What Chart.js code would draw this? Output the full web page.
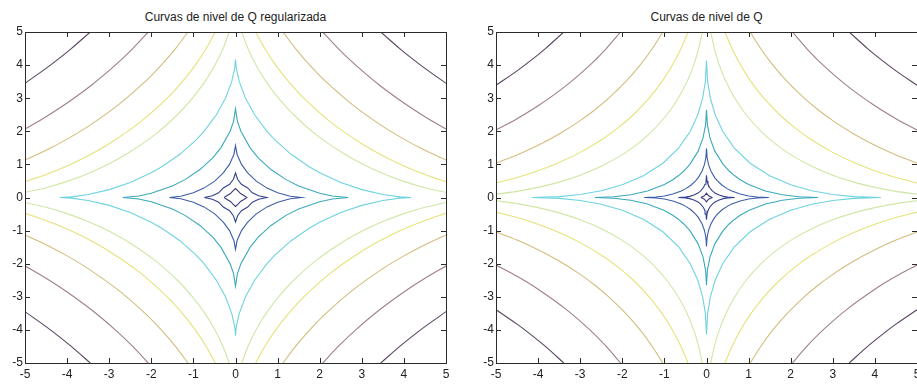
<!DOCTYPE html>
<html>
<head>
<meta charset="utf-8">
<script src="https://cdn.jsdelivr.net/npm/chart.js@4"></script>
<style>
  html, body { margin: 0; padding: 0; background: #fff; overflow: hidden; width: 917px; height: 386px; }
  .panel { position: absolute; top: 0; height: 386px; }
  .title {
    position: absolute; top: 10px; line-height: 14px;
    font: 12px "Liberation Sans", Arial, sans-serif; color: #222;
    white-space: nowrap; transform: translateX(-50%);
  }
</style>
</head>
<body>
<div class="title" style="left:235.5px">Curvas de nivel de Q regularizada</div>
<div class="title" style="left:706.5px">Curvas de nivel de Q</div>
<div class="panel" style="left:0;width:460px"><canvas id="left" width="460" height="386"></canvas></div>
<div class="panel" style="left:471px;width:470px"><canvas id="right" width="470" height="386"></canvas></div>
<script>
// Axis ticks, shared by both panels
const tickValues = [-5, -4, -3, -2, -1, 0, 1, 2, 3, 4, 5];

// Colour of each contour level, inner to outer
const levelColors = ["#3b3b7a", "#34428e", "#3d5ea6", "#3aaabb", "#6fd3df",
                     "#cfe7a6", "#e6e27a", "#d2bd7e", "#a07f8c", "#5a4560"];

// Upper-left quarter of each level (x <= 0, y >= 0).
// Levels 1-5 are closed stars, 6-10 leave the box.
// Left panel: Q regularizada
const regLevel1 = [[-0.27, 0], [-0.2, 0.06], [-0.12, 0.12], [-0.06, 0.2], [0, 0.27]];
const regLevel2 = [[-0.74, 0], [-0.55, 0.05], [-0.4, 0.14], [-0.29, 0.29], [-0.14, 0.4], [-0.05, 0.55], [0, 0.74]];
const regLevel3 = [[-1.57, 0], [-1.3, 0.038], [-1.0, 0.143], [-0.75, 0.284], [-0.494, 0.494], [-0.284, 0.75], [-0.143, 1.0], [-0.038, 1.3], [0, 1.57]];
const regLevel4 = [[-2.68, 0], [-2.3, 0.046], [-2.0, 0.128], [-1.5, 0.348], [-1.2, 0.54], [-0.844, 0.844], [-0.54, 1.2], [-0.348, 1.5], [-0.128, 2.0], [-0.046, 2.3], [0, 2.68]];
const regLevel5 = [[-4.17, 0], [-3.9, 0.019], [-3.5, 0.09], [-3, 0.238], [-2.5, 0.454], [-2, 0.748], [-1.75, 0.929], [-1.313, 1.313], [-0.929, 1.75], [-0.748, 2], [-0.454, 2.5], [-0.238, 3], [-0.09, 3.5], [-0.019, 3.9], [0, 4.17]];
const regLevel6 = [[-5, 0.15], [-4.5, 0.295], [-4, 0.487], [-3.5, 0.727], [-3, 1.022], [-2.5, 1.381], [-1.907, 1.907], [-1.381, 2.5], [-1.022, 3], [-0.727, 3.5], [-0.487, 4], [-0.295, 4.5], [-0.15, 5]];
const regLevel7 = [[-5, 0.48], [-4.5, 0.696], [-4, 0.955], [-3.5, 1.262], [-3, 1.623], [-2.269, 2.269], [-1.623, 3], [-1.262, 3.5], [-0.955, 4], [-0.696, 4.5], [-0.48, 5]];
const regLevel8 = [[-5, 1.13], [-4.5, 1.425], [-4, 1.763], [-3.5, 2.148], [-2.791, 2.791], [-2.148, 3.5], [-1.763, 4], [-1.425, 4.5], [-1.13, 5]];
const regLevel9 = [[-5, 2.07], [-4.5, 2.441], [-4, 2.855], [-3.408, 3.408], [-2.855, 4], [-2.441, 4.5], [-2.07, 5]];
const regLevel10 = [[-5, 3.45], [-4.5, 3.901], [-4.196, 4.196], [-3.901, 4.5], [-3.45, 5]];

// Right panel: Q
const qLevel1 = [[-0.13, 0], [-0.05, 0.05], [0, 0.13]];
const qLevel2 = [[-0.67, 0], [-0.5, 0.012], [-0.4, 0.035], [-0.3, 0.073], [-0.2, 0.138], [-0.168, 0.168], [-0.138, 0.2], [-0.073, 0.3], [-0.035, 0.4], [-0.012, 0.5], [0, 0.67]];
const qLevel3 = [[-1.48, 0], [-1.2, 0.015], [-1, 0.047], [-0.8, 0.104], [-0.6, 0.195], [-0.5, 0.26], [-0.37, 0.37], [-0.26, 0.5], [-0.195, 0.6], [-0.104, 0.8], [-0.047, 1], [-0.015, 1.2], [0, 1.48]];
const qLevel4 = [[-2.65, 0], [-2.2, 0.021], [-1.8, 0.082], [-1.4, 0.198], [-1, 0.394], [-0.8, 0.538], [-0.663, 0.663], [-0.538, 0.8], [-0.394, 1], [-0.198, 1.4], [-0.082, 1.8], [-0.021, 2.2], [0, 2.65]];
const qLevel5 = [[-4.14, 0], [-3.5, 0.027], [-3, 0.092], [-2.5, 0.206], [-2, 0.385], [-1.5, 0.656], [-1.035, 1.035], [-0.656, 1.5], [-0.385, 2], [-0.206, 2.5], [-0.092, 3], [-0.027, 3.5], [0, 4.14]];
const qLevel6 = [[-5, 0.1], [-4.5, 0.186], [-4, 0.305], [-3.5, 0.464], [-3, 0.673], [-2.5, 0.943], [-2, 1.295], [-1.629, 1.629], [-1.295, 2], [-0.943, 2.5], [-0.673, 3], [-0.464, 3.5], [-0.305, 4], [-0.186, 4.5], [-0.1, 5]];
const qLevel7 = [[-5, 0.44], [-4.5, 0.605], [-4, 0.809], [-3.5, 1.058], [-3, 1.363], [-2.5, 1.738], [-2.102, 2.102], [-1.738, 2.5], [-1.363, 3], [-1.058, 3.5], [-0.809, 4], [-0.605, 4.5], [-0.44, 5]];
const qLevel8 = [[-5, 1.04], [-4.5, 1.287], [-4, 1.577], [-3.5, 1.919], [-3, 2.322], [-2.65, 2.65], [-2.322, 3], [-1.919, 3.5], [-1.577, 4], [-1.287, 4.5], [-1.04, 5]];
const qLevel9 = [[-5, 2.04], [-4.5, 2.381], [-4, 2.77], [-3.357, 3.357], [-2.77, 4], [-2.381, 4.5], [-2.04, 5]];
const qLevel10 = [[-5, 3.39], [-4.5, 3.826], [-4.156, 4.156], [-3.826, 4.5], [-3.39, 5]];

const regLevels = [regLevel1, regLevel2, regLevel3, regLevel4, regLevel5,
                   regLevel6, regLevel7, regLevel8, regLevel9, regLevel10];
const qLevels = [qLevel1, qLevel2, qLevel3, qLevel4, qLevel5,
                 qLevel6, qLevel7, qLevel8, qLevel9, qLevel10];

const toPoints = arr => arr.map(([x, y]) => ({ x, y }));

/**
 * Builds the datasets of one panel from its quarter curves.
 * Closed levels are walked round all four quarters, open ones are four arcs.
 */
function buildDatasets(levels) {
  const datasets = [];
  levels.forEach((quarter, i) => {
    const style = {
      borderColor: levelColors[i],
      borderWidth: 1.1,
      pointRadius: 0,
      showLine: true,
      fill: false,
    };
    if (i < 5) {
      const loop = [
        ...quarter,
        ...quarter.slice().reverse().map(([x, y]) => [-x, y]),
        ...quarter.map(([x, y]) => [-x, -y]),
        ...quarter.slice().reverse().map(([x, y]) => [x, -y]),
      ];
      datasets.push({ ...style, tension: 0, data: toPoints(loop) });
    } else {
      [[1, 1], [-1, 1], [1, -1], [-1, -1]].forEach(([sx, sy]) => {
        datasets.push({
          ...style,
          tension: 0.3,
          data: toPoints(quarter.map(([x, y]) => [sx * x, sy * y])),
        });
      });
    }
  });
  return datasets;
}

// Frame with inward ticks on all four sides
const matlabBox = {
  id: "matlabBox",
  afterDraw(chart) {
    const { ctx, chartArea: a, scales: { x, y } } = chart;
    ctx.save();
    ctx.strokeStyle = "#2b2b2b";
    ctx.lineWidth = 1;
    ctx.strokeRect(a.left + 0.5, a.top + 0.5, a.right - a.left, a.bottom - a.top);
    ctx.beginPath();
    tickValues.forEach(v => {
      const px = Math.round(x.getPixelForValue(v)) + 0.5;
      ctx.moveTo(px, a.bottom); ctx.lineTo(px, a.bottom - 5);
      ctx.moveTo(px, a.top); ctx.lineTo(px, a.top + 5);
      const py = Math.round(y.getPixelForValue(v)) + 0.5;
      ctx.moveTo(a.left, py); ctx.lineTo(a.left + 5, py);
      ctx.moveTo(a.right, py); ctx.lineTo(a.right - 5, py);
    });
    ctx.stroke();
    ctx.restore();
  },
};

const tickFont = { family: "'Liberation Sans', Arial, sans-serif", size: 12 };

function makeAxis(size, isY) {
  return {
    type: "linear",
    min: -5,
    max: 5,
    grid: { display: false, drawTicks: false },
    border: { display: false },
    ticks: {
      stepSize: 1,
      font: tickFont,
      color: "#222",
      padding: isY ? 2 : 4,
      maxRotation: 0,
      autoSkip: false,
    },
    afterFit: scale => {
      if (isY) scale.width = size;
      else scale.height = size;
    },
  };
}

function drawPanel(id, levels, rightPad) {
  new Chart(document.getElementById(id), {
    type: "scatter",
    data: { datasets: buildDatasets(levels) },
    options: {
      responsive: false,
      animation: false,
      events: [],
      layout: { padding: { left: 0, top: 32, right: rightPad, bottom: 0 } },
      plugins: { legend: { display: false }, tooltip: { enabled: false } },
      scales: { x: makeAxis(23, false), y: makeAxis(25, true) },
    },
    plugins: [matlabBox],
  });
}

drawPanel("left", regLevels, 14);
drawPanel("right", qLevels, 24);
</script>
</body>
</html>
